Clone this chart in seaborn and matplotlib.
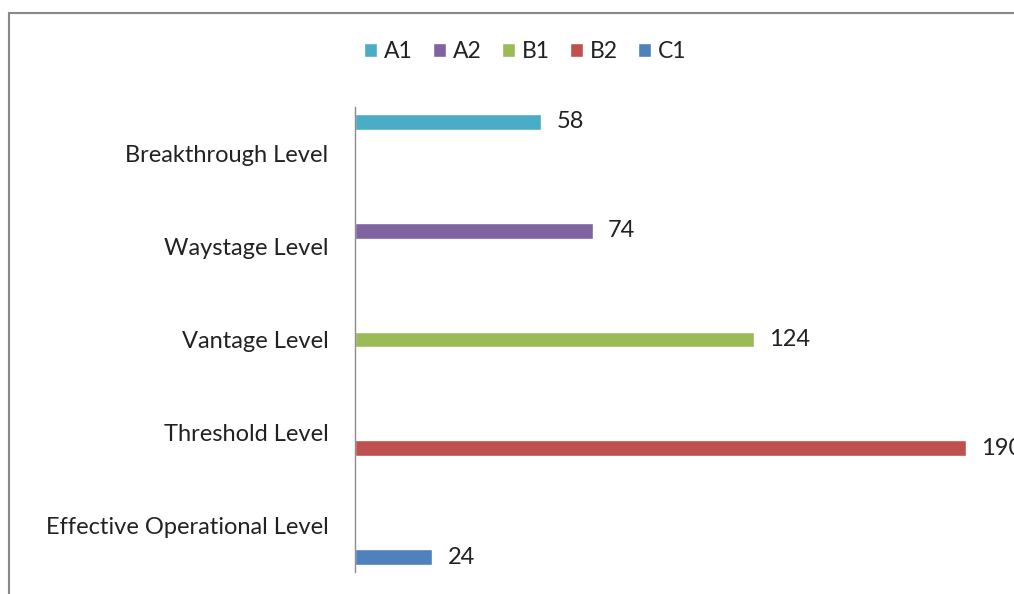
import matplotlib
matplotlib.use("Agg")
import matplotlib.pyplot as plt
from matplotlib.patches import Rectangle
import seaborn as sns
import pandas as pd

categories = ["Breakthrough Level", "Waystage Level", "Vantage Level",
              "Threshold Level", "Effective Operational Level"]
series = ["A1", "A2", "B1", "B2", "C1"]
values = [58, 74, 124, 190, 24]
colors = ["#4BACC6", "#8064A2", "#9BBB59", "#C0504D", "#4F81BD"]

df = pd.DataFrame({"level": categories, "series": series, "value": values})

sns.set_theme(style="white")
plt.rcParams["font.family"] = ["Lato", "DejaVu Sans"]

fig = plt.figure(figsize=(10.14, 5.94), dpi=100)
ax = fig.add_axes([355/1014, 1 - 572/594, 1 - 355/1014, (572 - 107)/594])

sns.barplot(data=df, y="level", x="value", hue="series", order=categories,
            hue_order=series, palette=colors, orient="h", width=0.85,
            dodge=True, ax=ax, legend=True, saturation=1)

for c in ax.containers:
    ax.bar_label(c, padding=11, fontsize=17, color="#222222", clip_on=False)

ax.set_xlim(0, 205)
ax.set_xlabel("")
ax.set_ylabel("")
ax.set_xticks([])
for s in ["top", "right", "bottom"]:
    ax.spines[s].set_visible(False)
ax.spines["left"].set_color("#8c8c8c")
ax.spines["left"].set_linewidth(1.0)
ax.tick_params(axis="y", length=0, pad=19, labelsize=17, labelcolor="#222222")

handles, labels = ax.get_legend_handles_labels()
ax.get_legend().remove()
fig.legend(handles, labels, loc="center", bbox_to_anchor=(0.518, 1 - 52/594),
           ncol=5, frameon=False, fontsize=16.5, handlelength=0.55,
           handleheight=0.55, handletextpad=0.3, columnspacing=0.9,
           labelcolor="#222222")

fig.add_artist(Rectangle((9/1014, -0.05), 1.1, 1 - 13/594 + 0.05,
                         transform=fig.transFigure, fill=False,
                         edgecolor="#888888", linewidth=1.5))

fig.savefig("out.png", dpi=100)
